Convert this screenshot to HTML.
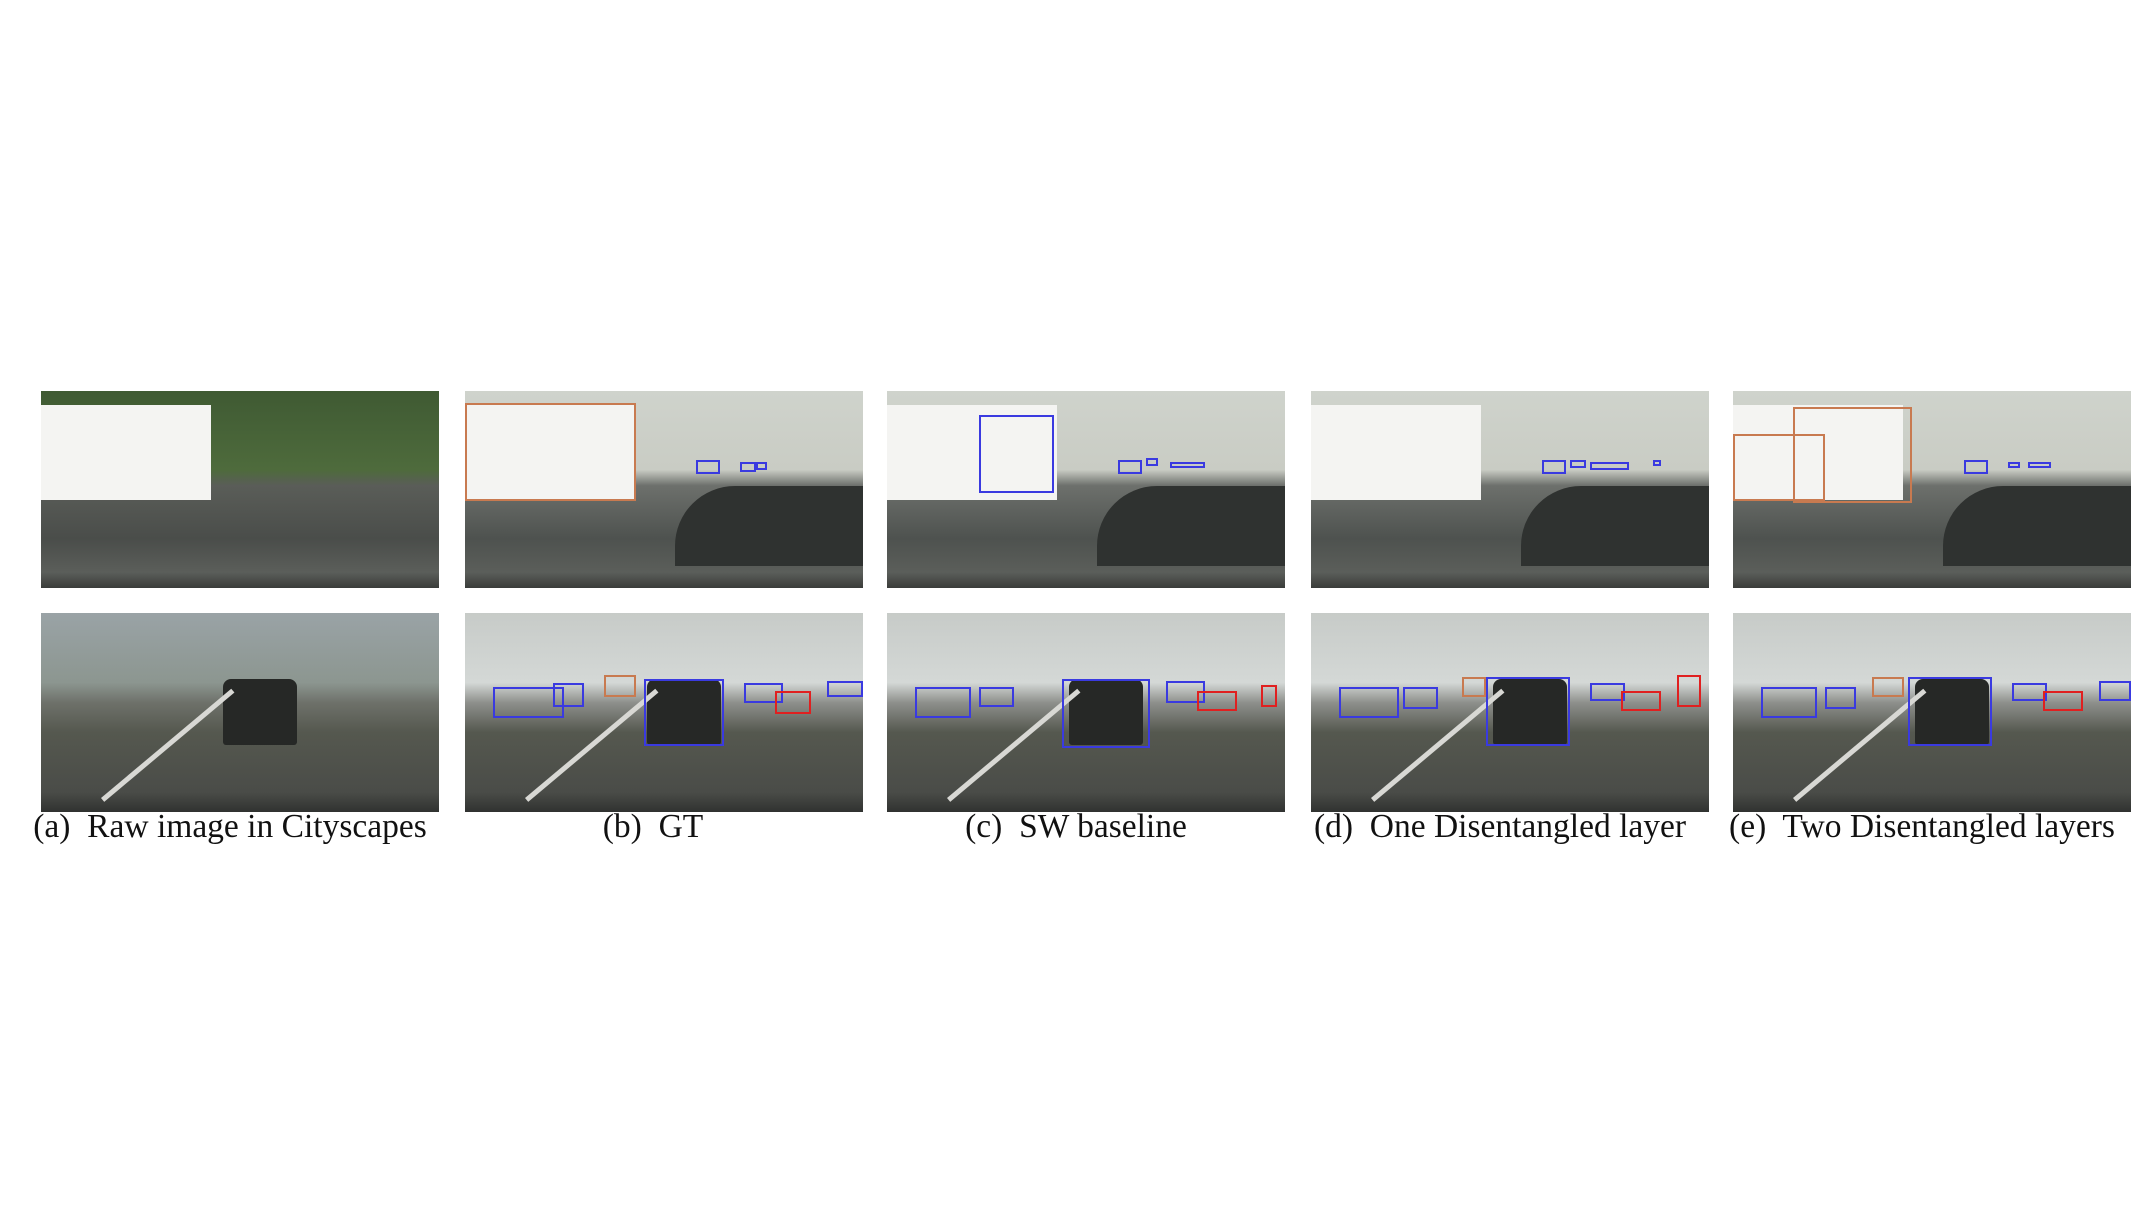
<!DOCTYPE html>
<html><head><meta charset="utf-8"><style>
body{margin:0;width:2150px;height:1206px;background:#fff;position:relative;overflow:hidden;font-family:"Liberation Serif",serif}
.p{position:absolute;overflow:hidden}
.r1{background:linear-gradient(180deg,#cfd3cc 0%,#c9ccc4 40%,#6d706c 48%,#4e524f 75%,#5b5e5a 92%,#3a3c3a 100%)}
.r1.raw{background:linear-gradient(180deg,#3f5a33 0%,#4e6b3c 40%,#5a5d58 48%,#4a4d4a 75%,#5b5e5a 92%,#3a3c3a 100%)}
.r2{background:linear-gradient(180deg,#c7cbc8 0%,#d4d8d6 35%,#8e908c 45%,#55584f 60%,#4a4c48 90%,#303230 100%)}
.r2.raw{background:linear-gradient(180deg,#9aa3a6 0%,#8c9690 35%,#6e716a 45%,#55584f 60%,#4a4c48 90%,#303230 100%)}
.truck{position:absolute;background:#f4f4f2}
.shadow{position:absolute;background:#2f3230}
.car{position:absolute;background:#262826;border-radius:8px 8px 3px 3px}
.line{position:absolute;background:#d8d8d4;transform-origin:0 0}
.b{position:absolute;border:2px solid #3a3ae0;box-sizing:border-box}
.cap{position:absolute;top:808px;font-size:33.5px;color:#111;white-space:nowrap;transform:translateX(-50%)}
</style></head><body>
<div id="root"></div>
<div class="cap" style="left:230px">(a)&nbsp; Raw image in Cityscapes</div>
<div class="cap" style="left:653px">(b)&nbsp; GT</div>
<div class="cap" style="left:1076px">(c)&nbsp; SW baseline</div>
<div class="cap" style="left:1500px">(d)&nbsp; One Disentangled layer</div>
<div class="cap" style="left:1922px">(e)&nbsp; Two Disentangled layers</div>
<script>
const colX=[41,465,887,1311,1733];
const rowY=[391,613];
const W=398,H1=197,H2=199;
const colNames=['raw','gt','sw-baseline','one-layer','two-layers'];
const boxes=[
[1,0,0.0,0.06,0.43,0.56,'#c87a50'],[1,0,0.58,0.35,0.64,0.42,'b'],[1,0,0.69,0.36,0.73,0.41,'b'],[1,0,0.73,0.36,0.76,0.40,'b'],
[2,0,0.23,0.12,0.42,0.52,'b'],[2,0,0.58,0.35,0.64,0.42,'b'],[2,0,0.65,0.34,0.68,0.38,'b'],[2,0,0.71,0.36,0.80,0.39,'b'],
[3,0,0.58,0.35,0.64,0.42,'b'],[3,0,0.65,0.35,0.69,0.39,'b'],[3,0,0.70,0.36,0.80,0.40,'b'],[3,0,0.86,0.35,0.88,0.38,'b'],
[4,0,0.0,0.22,0.23,0.56,'#c87a50'],[4,0,0.15,0.08,0.45,0.57,'#c87a50'],[4,0,0.58,0.35,0.64,0.42,'b'],[4,0,0.69,0.36,0.72,0.39,'b'],[4,0,0.74,0.36,0.80,0.39,'b'],
[1,1,0.07,0.37,0.25,0.53,'b'],[1,1,0.22,0.35,0.30,0.47,'b'],[1,1,0.45,0.33,0.65,0.67,'b'],[1,1,0.35,0.31,0.43,0.42,'#c87a50'],[1,1,0.70,0.35,0.80,0.45,'b'],[1,1,0.78,0.39,0.87,0.51,'#e02020'],[1,1,0.91,0.34,1.0,0.42,'b'],
[2,1,0.07,0.37,0.21,0.53,'b'],[2,1,0.23,0.37,0.32,0.47,'b'],[2,1,0.44,0.33,0.66,0.68,'b'],[2,1,0.70,0.34,0.80,0.45,'b'],[2,1,0.78,0.39,0.88,0.49,'#e02020'],[2,1,0.94,0.36,0.98,0.47,'#e02020'],
[3,1,0.07,0.37,0.22,0.53,'b'],[3,1,0.23,0.37,0.32,0.48,'b'],[3,1,0.44,0.32,0.65,0.67,'b'],[3,1,0.38,0.32,0.44,0.42,'#c87a50'],[3,1,0.70,0.35,0.79,0.44,'b'],[3,1,0.78,0.39,0.88,0.49,'#e02020'],[3,1,0.92,0.31,0.98,0.47,'#e02020'],
[4,1,0.07,0.37,0.21,0.53,'b'],[4,1,0.23,0.37,0.31,0.48,'b'],[4,1,0.44,0.32,0.65,0.67,'b'],[4,1,0.35,0.32,0.43,0.42,'#c87a50'],[4,1,0.70,0.35,0.79,0.44,'b'],[4,1,0.78,0.39,0.88,0.49,'#e02020'],[4,1,0.92,0.34,1.0,0.44,'b']
];
const root=document.getElementById('root');
const panels={};
for(let r=0;r<2;r++)for(let c=0;c<5;c++){
 const d=document.createElement('div');
 d.className='p '+(r?'r2':'r1')+(c===0?' raw':'');
 d.style.left=colX[c]+'px';d.style.top=rowY[r]+'px';d.style.width=W+'px';d.style.height=(r?H2:H1)+'px';
 
 
 if(r===0){
  const t=document.createElement('div');t.className='truck';
  t.style.cssText='left:0;top:14px;width:170px;height:95px';
  
  
  d.appendChild(t);
  if(c>0){const s=document.createElement('div');s.className='shadow';
  s.style.cssText='left:210px;top:95px;width:200px;height:80px;border-radius:60px 0 0 0';
  
  
  d.appendChild(s);}
 }else{
  const k=document.createElement('div');k.className='car';
  k.style.cssText='left:182px;top:66px;width:74px;height:66px';
  
  
  d.appendChild(k);
  const l=document.createElement('div');l.className='line';
  l.style.cssText='left:60px;top:185px;width:170px;height:5px;transform:rotate(-40deg)';
  
  
  d.appendChild(l);
 }
 root.appendChild(d);panels[c+'_'+r]=d;
}
boxes.forEach(b=>{
 const [c,r,x0,y0,x1,y1,col]=b;const h=r?H2:H1;
 const e=document.createElement('div');e.className='b';
 e.style.left=(x0*W)+'px';e.style.top=(y0*h)+'px';e.style.width=((x1-x0)*W)+'px';e.style.height=((y1-y0)*h)+'px';
 e.style.borderColor=col==='b'?'#3a3ae0':col;
 
 
 panels[c+'_'+r].appendChild(e);
});
</script>
</body></html>
